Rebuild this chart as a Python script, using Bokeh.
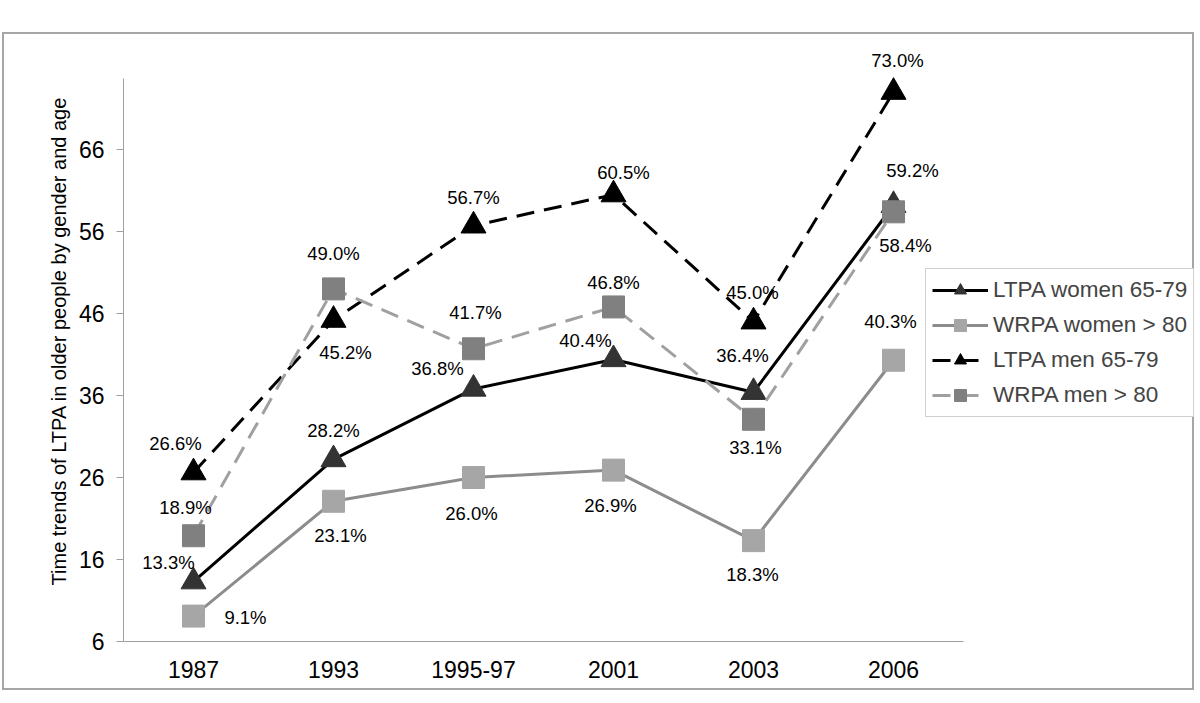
from bokeh.plotting import figure
from bokeh.models import (Range1d, FixedTicker, Legend, LegendItem,
                          ColumnDataSource, LabelSet)
from bokeh.core.properties import value
from bokeh.embed import file_html
from bokeh.resources import INLINE

# ---- data ----
years = ["1987", "1993", "1995-97", "2001", "2003", "2006"]
ltpa_women = [13.3, 28.2, 36.8, 40.4, 36.4, 59.2]
wrpa_women = [9.1, 23.1, 26.0, 26.9, 18.3, 40.3]
ltpa_men = [26.6, 45.2, 56.7, 60.5, 45.0, 73.0]
wrpa_men = [18.9, 49.0, 41.7, 46.8, 33.1, 58.4]
y_ticks = [6, 16, 26, 36, 46, 56, 66]
series_names = ["LTPA women 65-79", "WRPA women > 80", "LTPA men 65-79", "WRPA men > 80"]
y_title = "Time trends of LTPA in older people by gender and age"

# ---- label offsets (screen px, dx right, dy down) ----
off_ltpa_women = [(-25, -19), (0, -29), (-36, -20), (-28, -19), (-11, -37), (19, -35)]
off_wrpa_women = [(52, 1), (7, 34), (-2, 36), (-3, 35), (-1, 34), (-3, -39)]
off_ltpa_men = [(-18, -29), (12, 32), (0, -28), (10, -22), (-1, -29), (4, -32)]
off_wrpa_men = [(-8, -28), (0, -35), (2, -36), (0, -24), (2, 28), (12, 34)]

FONT = "Liberation Sans"

# category positions on a numeric axis (one unit per category)
x_pos = [i + 0.5 for i in range(len(years))]
n_cat = len(years)

p = figure(width=1192, height=658, output_backend="svg", toolbar_location=None,
           x_range=Range1d(0, 1072 / 140.0),
           y_range=Range1d(6, 6 + 601 / 8.2),
           min_border_left=119, min_border_right=1, min_border_top=6, min_border_bottom=51)
p.margin = (32, 0, 0, 2)
p.styles = {"border": "2px solid #a6a6a6"}
p.outline_line_color = None
p.xgrid.grid_line_color = None
p.ygrid.grid_line_color = None
p.background_fill_color = "white"
p.border_fill_color = "white"

# axes
p.yaxis.ticker = FixedTicker(ticks=y_ticks)
p.yaxis.bounds = (6, 74.66)
p.yaxis.axis_line_color = "#a0a0a0"
p.yaxis.major_tick_line_color = "#a0a0a0"
p.yaxis.major_tick_out = 7
p.yaxis.major_tick_in = 0
p.yaxis.minor_tick_line_color = None
p.yaxis.major_label_standoff = 12
p.yaxis.major_label_text_font = FONT
p.yaxis.major_label_text_font_size = "23px"
p.yaxis.major_label_text_color = "black"
p.yaxis.axis_label = y_title
p.yaxis.axis_label_text_font = FONT
p.yaxis.axis_label_text_font_size = "20px"
p.yaxis.axis_label_text_font_style = "normal"
p.yaxis.axis_label_text_color = "black"
p.yaxis.axis_label_standoff = 6

p.xaxis.ticker = FixedTicker(ticks=x_pos)
p.xaxis.major_label_overrides = {x: y for x, y in zip(x_pos, years)}
p.xaxis.bounds = (0, n_cat)
p.xaxis.axis_line_color = "#a0a0a0"
p.xaxis.major_tick_line_color = None
p.xaxis.minor_tick_line_color = None
p.xaxis.major_tick_out = 0
p.xaxis.major_tick_in = 0
p.xaxis.major_label_standoff = 19
p.xaxis.major_label_text_font = FONT
p.xaxis.major_label_text_font_size = "23px"
p.xaxis.major_label_text_color = "black"

styles = [
    dict(vals=ltpa_women, line_color="black", dash="solid", marker="triangle",
         mcolor="#333333", msize=25, offs=off_ltpa_women),
    dict(vals=wrpa_women, line_color="#8c8c8c", dash="solid", marker="square",
         mcolor="#a6a6a6", msize=22, offs=off_wrpa_women),
    dict(vals=ltpa_men, line_color="black", dash="18 10", marker="triangle",
         mcolor="black", msize=25, offs=off_ltpa_men),
    dict(vals=wrpa_men, line_color="#a0a0a0", dash="18 10", marker="square",
         mcolor="#808080", msize=22, offs=off_wrpa_men),
]

items = []
for name, st in zip(series_names, styles):
    src = ColumnDataSource(dict(
        x=x_pos, y=st["vals"],
        lab=[f"{v:.1f}%" for v in st["vals"]],
        dx=[o[0] for o in st["offs"]],
        dy=[-o[1] for o in st["offs"]],
    ))
    ln = p.line("x", "y", source=src, line_color=st["line_color"], line_width=3,
                line_dash=st["dash"])
    mk = p.scatter("x", "y", source=src, marker=st["marker"], size=st["msize"],
                   fill_color=st["mcolor"], line_color=st["mcolor"])
    labels = LabelSet(x="x", y="y", text="lab", source=src, x_offset="dx", y_offset="dy",
                      text_align="center", text_baseline="middle",
                      text_font=value(FONT), text_font_size="18.5px", text_color="black")
    p.add_layout(labels)
    items.append(LegendItem(label=name, renderers=[ln, mk]))

legend = Legend(items=items, location=(802, 224))
legend.label_text_font = FONT
legend.label_text_font_size = "22.5px"
legend.glyph_width = 56
legend.glyph_height = 30
legend.label_height = 30
legend.spacing = 5
legend.padding = 6
legend.margin = 0
legend.label_standoff = 5
legend.border_line_color = "#a0a0a0"
legend.border_line_width = 1
legend.background_fill_color = "white"
legend.background_fill_alpha = 1
p.add_layout(legend)

open("out.html", "w").write(file_html(p, INLINE))
